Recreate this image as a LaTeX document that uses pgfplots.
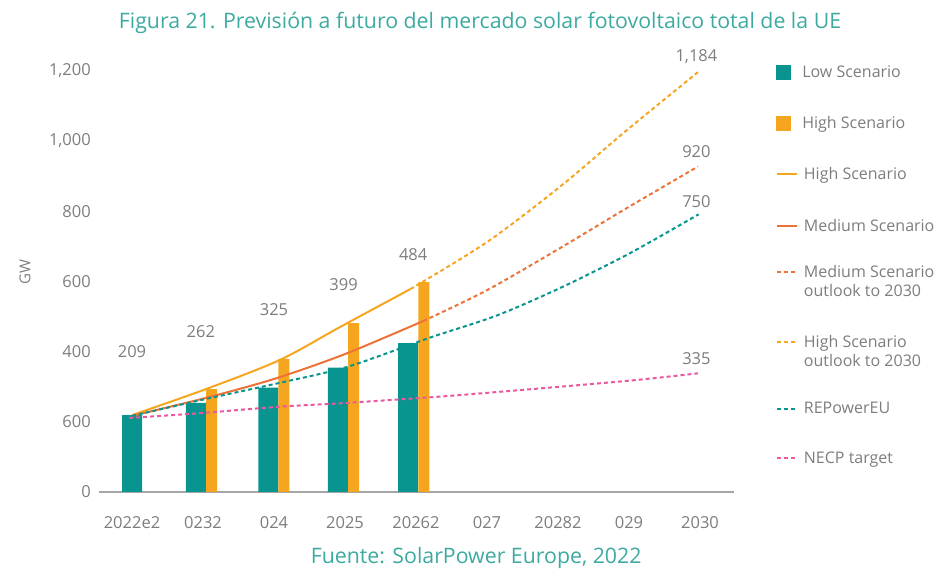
\documentclass[border=0pt]{standalone}
\usepackage{fontspec}
\setmainfont{Open Sans}
\usepackage{pgfplots}
\pgfplotsset{compat=1.18}
\definecolor{tealc}{RGB}{8,148,143}
\definecolor{orangec}{RGB}{246,166,30}
\definecolor{medc}{RGB}{238,114,55}
\definecolor{pinkc}{RGB}{234,88,160}
\definecolor{txtgray}{RGB}{125,125,125}
\definecolor{titlec}{RGB}{60,170,160}
\definecolor{axgray}{RGB}{165,165,165}
\pgfplotsset{
  geom/.style={at={(99pt,77pt)}, anchor=south west, scale only axis, width=635pt, height=456.3pt},
  legonly/.style={geom, xmin=0, xmax=1, ymin=0, ymax=1, hide axis,
    legend style={at={(axis description cs:1.066,#1)}, anchor=west, draw=none, fill=none,
      inner sep=0pt, outer sep=0pt, font=\fontsize{16}{18.5}\selectfont, text=txtgray,
      nodes={inner sep=0pt, outer sep=0pt}},
    legend cell align=left},
  sqimg/.style={legend image code/.code={\fill[#1] (0pt,-7pt) rectangle (14pt,7pt); \fill[white, opacity=0] (19.9pt,-0.1pt) rectangle (20pt,0pt);}},
  lnimg/.style={legend image code/.code={\draw[#1, line width=2pt] (0pt,0pt) -- (20pt,0pt);}},
  dsimg/.style={legend image code/.code={\draw[#1, line width=2pt, dash pattern=on 4pt off 3pt] (0pt,0pt) -- (20pt,0pt);}},
}
\begin{document}
\begin{tikzpicture}
\useasboundingbox (0pt,0pt) rectangle (937pt,569pt);
\begin{axis}[
 geom,
 xmin=-0.465, xmax=8.479, ymin=0, ymax=1300,
 clip=false,
 axis x line*=bottom, axis y line*=left,
 x axis line style={draw=axgray, line width=1.3pt, -},
 y axis line style={draw=none},
 major tick length=0pt,
 xtick={0,...,8},
 xticklabels={2022e2,0232,024,2025,20262,027,20282,029,2030},
 ytick={0,200,...,1200},
 yticklabels={0,600,400,600,800,{1,000},{1,200}},
 tick label style={font=\fontsize{16.5}{19}\selectfont, text=txtgray},
 xticklabel style={anchor=center},
 xticklabel shift=31pt,
 yticklabel style={anchor=east, inner sep=0pt},
 yticklabel shift=8pt,
 ylabel={GW},
 ylabel style={at={(axis description cs:-0.1165,0.482)}, anchor=center, font=\fontsize{15}{18}\selectfont, text=txtgray},
 title={Figura 21. Previsión a futuro del mercado solar fotovoltaico total de la UE},
 title style={at={(axis description cs:0.6,1.015)}, anchor=center, font=\fontsize{21.3}{24}\selectfont, text=titlec},
 xlabel={Fuente: SolarPower Europe, 2022},
 xlabel style={at={(axis description cs:0.594,-0.1437)}, anchor=center, font=\fontsize{21.3}{24}\selectfont, text=titlec},
]
% bars
\addplot[ybar, bar width=20pt, bar shift=0pt, fill=tealc, draw=none]
  coordinates {(0,219) (0.9,254) (1.92,297) (2.9,354) (3.89,424)};
\addplot[ybar, bar width=11pt, bar shift=0pt, fill=orangec, draw=none]
  coordinates {(1.12,293) (2.14,379) (3.12,481) (4.11,598)};
% solid lines
\addplot[orangec, line width=2pt, smooth]
  coordinates {(0,219) (1.04,293) (2.08,376) (2.93,470) (3.92,578)};
\addplot[medc, line width=2pt, smooth]
  coordinates {(0,217) (1,266) (2,322) (3,393) (4.1,487)};
% dashed lines
\addplot[medc, line width=2pt, smooth, dash pattern=on 4pt off 3pt]
  coordinates {(4.1,487) (5,575) (6.03,695) (6.97,809) (7.97,927)};
\addplot[orangec, line width=2pt, smooth, dash pattern=on 4pt off 3pt]
  coordinates {(3.92,578) (5,712) (6.03,870) (6.97,1031) (7.97,1196)};
\addplot[tealc, line width=2pt, smooth, dash pattern=on 4pt off 3pt]
  coordinates {(0,217) (1.04,265) (2.06,310) (3.04,357) (4.2,440) (5.14,503) (6.07,585) (7.01,680) (7.98,791)};
\addplot[pinkc, line width=2pt, smooth, dash pattern=on 4pt off 3pt]
  coordinates {(-0.04,211) (0.92,224) (2.08,243) (3.04,254) (4.48,274) (6.03,300) (7.1,319) (7.97,338)};
% value labels
\addplot[draw=none, mark=none, nodes near coords, point meta=explicit symbolic,
  nodes near coords style={anchor=center, font=\fontsize{16.5}{19}\selectfont, text=txtgray}]
  table[meta=lab] {
x y lab
0 399.7 209
0.97 456.7 262
2.0 520.5 325
2.98 589.7 399
3.96 675 484
7.95 1240 1,184
7.95 969.5 920
7.95 826 750
7.95 379 335
};
\end{axis}
% legend, one entry per overlaid axis
\begin{axis}[legonly=0.9205]
\addlegendimage{sqimg=tealc}\addlegendentry{\hspace{6pt}Low Scenario}
\end{axis}
\begin{axis}[legonly=0.8087]
\addlegendimage{sqimg=orangec}\addlegendentry{\hspace{6pt}High Scenario}
\end{axis}
\begin{axis}[legonly=0.6969]
\addlegendimage{lnimg=orangec}\addlegendentry{\hspace{6pt}High Scenario}
\end{axis}
\begin{axis}[legonly=0.5830]
\addlegendimage{lnimg=medc}\addlegendentry{\hspace{6pt}Medium Scenario}
\end{axis}
\begin{axis}[legonly=0.4821]
\addlegendimage{dsimg=medc}\addlegendentry{\hspace{6pt}\begin{tabular}[t]{@{}l@{}}Medium Scenario\\outlook to 2030\end{tabular}}
\end{axis}
\begin{axis}[legonly=0.3287]
\addlegendimage{dsimg=orangec}\addlegendentry{\hspace{6pt}\begin{tabular}[t]{@{}l@{}}High Scenario\\outlook to 2030\end{tabular}}
\end{axis}
\begin{axis}[legonly=0.1819]
\addlegendimage{dsimg=tealc}\addlegendentry{\hspace{6pt}REPowerEU}
\end{axis}
\begin{axis}[legonly=0.0745]
\addlegendimage{dsimg=pinkc}\addlegendentry{\hspace{6pt}NECP target}
\end{axis}
\end{tikzpicture}
\end{document}
